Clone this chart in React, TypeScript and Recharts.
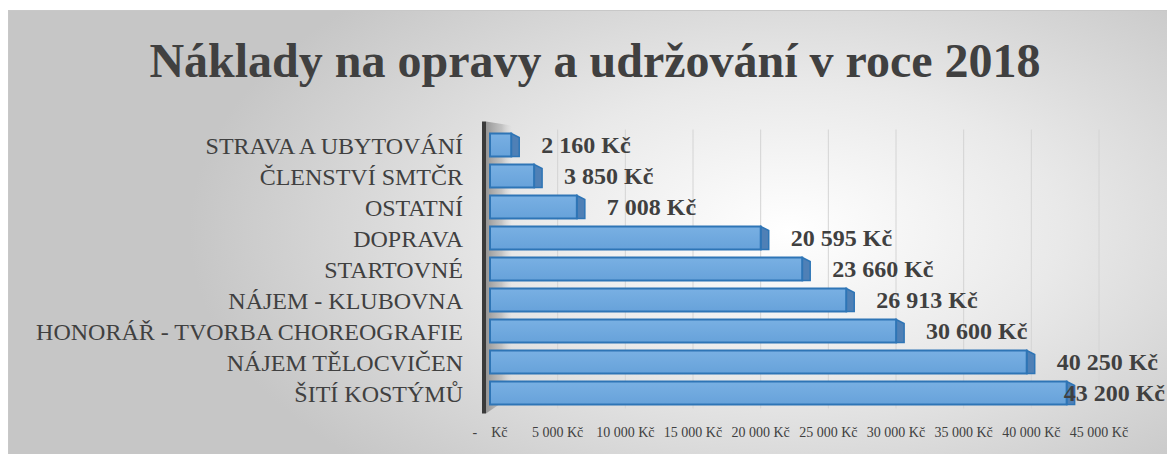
import React from 'react';
import { BarChart, Bar, XAxis, YAxis, CartesianGrid, LabelList, ReferenceArea } from 'recharts';

const categories = [
  'STRAVA A UBYTOVÁNÍ',
  'ČLENSTVÍ SMTČR',
  'OSTATNÍ',
  'DOPRAVA',
  'STARTOVNÉ',
  'NÁJEM - KLUBOVNA',
  'HONORÁŘ - TVORBA CHOREOGRAFIE',
  'NÁJEM TĚLOCVIČEN',
  'ŠITÍ KOSTÝMŮ',
];
const amounts = [2160, 3850, 7008, 20595, 23660, 26913, 30600, 40250, 43200];
const xTicks = [0, 5000, 10000, 15000, 20000, 25000, 30000, 35000, 40000, 45000];
const titleText = 'Náklady na opravy a udržování v roce 2018';

const data = categories.map((name, i) => ({ name, value: amounts[i] }));

const SERIF = '"Liberation Serif", "Times New Roman", Times, serif';
const TEXT = '#404040';
const CHART_W = 1158;
const LABEL_SIZE = 24;

const withSpaces = (v: number) => String(v).replace(/\B(?=(\d{3})+(?!\d))/g, '\u00a0');
const fmtTick = (v: number) => (v === 0 ? '-\u00a0\u00a0\u00a0\u00a0Kč' : withSpaces(v) + '\u00a0Kč');
const fmtValue = (v: number) => withSpaces(v) + '\u00a0Kč';

const Bar3D = (props: any) => {
  const { x, y, width, height } = props;
  if (width == null || height == null) return null;
  const d = 8;
  const fw = Math.max(width - d, 1);
  return (
    <g>
      <polygon
        points={`${x + fw},${y} ${x + width},${y + 4} ${x + width},${y + height} ${x + fw},${y + height}`}
        fill="#4f80b6"
        stroke="#2e75b6"
        strokeWidth={1.5}
      />
      <rect x={x} y={y} width={fw} height={height} fill="url(#barFront)" stroke="#2e75b6" strokeWidth={2} />
    </g>
  );
};

const Wall = (props: any) => {
  const { x, y, height } = props;
  const top = y - 8;
  const bottom = y + height + 5;
  return (
    <g>
      <polygon
        points={`${x - 4},${top} ${x + 22},${top + 4} ${x + 22},${bottom - 18} ${x - 4},${bottom}`}
        fill="url(#wallGrad)"
      />
      <line x1={x - 6} y1={top} x2={x - 6} y2={bottom} stroke="#3a3a3a" strokeWidth={4} />
    </g>
  );
};

const ValueLabel = (props: any) => {
  const { x, y, width, height, value } = props;
  const text = fmtValue(value);
  const estWidth = text.length * LABEL_SIZE * 0.46;
  const tx = Math.min(x + width + 22, CHART_W - estWidth - 4);
  return (
    <text
      x={tx}
      y={y + height / 2}
      dominantBaseline="central"
      fontFamily={SERIF}
      fontWeight="bold"
      fontSize={LABEL_SIZE}
      fill={TEXT}
    >
      {text}
    </text>
  );
};

export default function App() {
  return (
    <div
      style={{
        position: 'absolute',
        left: 8,
        top: 10,
        width: 1159,
        height: 444,
        boxSizing: 'border-box',
        borderTop: '1px solid #c8c8c8',
        borderLeft: '1px solid #c8c8c8',
        background: 'radial-gradient(ellipse 600px 330px at 780px 220px, #ffffff 0%, #e9e9e9 45%, #c6c6c6 100%)',
        overflow: 'hidden',
      }}
    >
      <div
        style={{
          position: 'absolute',
          left: 7,
          top: 26,
          width: '100%',
          textAlign: 'center',
          fontFamily: SERIF,
          fontWeight: 'bold',
          fontSize: 48,
          lineHeight: '48px',
          color: TEXT,
          whiteSpace: 'nowrap',
        }}
      >
        {titleText}
      </div>
      <div style={{ position: 'absolute', left: 0, top: 0 }}>
        <BarChart
          width={CHART_W}
          height={443}
          data={data}
          layout="vertical"
          margin={{ top: 118.5, right: 68, bottom: 15.5, left: 0 }}
          barSize={23}
        >
          <defs>
            <linearGradient id="barFront" x1="0" y1="0" x2="0" y2="1">
              <stop offset="0%" stopColor="#79b0e3" />
              <stop offset="100%" stopColor="#67a2da" />
            </linearGradient>
            <linearGradient id="wallGrad" x1="0" y1="0" x2="1" y2="0">
              <stop offset="0%" stopColor="#969696" />
              <stop offset="60%" stopColor="#b4b4b4" stopOpacity={0.7} />
              <stop offset="100%" stopColor="#d0d0d0" stopOpacity={0} />
            </linearGradient>
          </defs>
          <CartesianGrid horizontal={false} vertical stroke="#d4d4d4" />
          <XAxis
            type="number"
            domain={[0, 45000]}
            ticks={xTicks}
            interval={0}
            tickFormatter={fmtTick}
            axisLine={false}
            tickLine={false}
            tickSize={0}
            tickMargin={19}
            height={30}
            tick={{ fontFamily: SERIF, fontSize: 14, fill: TEXT }}
          />
          <YAxis
            type="category"
            dataKey="name"
            width={481}
            interval={0}
            axisLine={false}
            tickLine={false}
            tickSize={0}
            tickMargin={27}
            tick={{ fontFamily: SERIF, fontSize: 24, fill: TEXT }}
          />
          <ReferenceArea x1={0} x2={1500} shape={<Wall />} />
          <Bar dataKey="value" shape={<Bar3D />} isAnimationActive={false}>
            <LabelList dataKey="value" content={<ValueLabel />} />
          </Bar>
        </BarChart>
      </div>
    </div>
  );
}
